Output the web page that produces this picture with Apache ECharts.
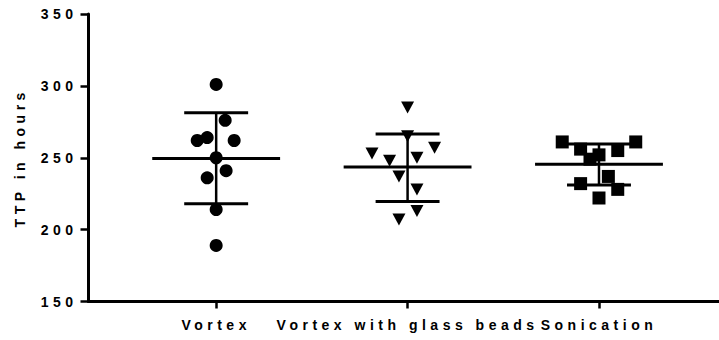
<!DOCTYPE html>
<html>
<head>
<meta charset="utf-8">
<script src="https://cdn.jsdelivr.net/npm/echarts@6/dist/echarts.min.js"></script>
<style>
html, body { margin: 0; padding: 0; background: #fff; }
#chart { width: 719px; height: 340px; }
#chart svg text { letter-spacing: 4.5px; }
</style>
</head>
<body>
<div id="chart"></div>
<script>
// ---- data ----
const categories = ['Vortex', 'Vortex with glass beads', 'Sonication'];

const vortexValues  = [301, 276, 264, 262, 262, 250, 241, 236, 214, 189];
const vortexJitter  = [0, 0.047, -0.047, -0.099, 0.094, 0, 0.052, -0.047, 0, 0];

const beadsValues   = [285, 265, 253, 248, 250, 257, 237, 228, 213, 207];
const beadsJitter   = [0, 0, -0.186, -0.094, 0.049, 0.141, -0.045, 0.049, 0.049, -0.045];

const sonicValues   = [261, 261, 256, 255, 252, 249, 237, 232, 228, 222];
const sonicJitter   = [-0.192, 0.192, -0.096, 0.098, 0, -0.047, 0.049, -0.096, 0.098, 0];

const groupMeans    = [249.5, 243.5, 245.4];
const groupUpper    = [281.3, 266.5, 259.6];
const groupLower    = [218.0, 219.5, 231.0];

const yTicks = [150, 200, 250, 300, 350];

// ---- build chart ----
const FONT = '"Liberation Sans", Arial, sans-serif';
function pts(values, jitter, pos) {
  return values.map((v, i) => [pos + jitter[i], v]);
}
const statsData = groupMeans.map((m, i) => [i + 1, m, groupUpper[i], groupLower[i]]);

const chart = echarts.init(document.getElementById('chart'), null, { renderer: 'svg' });
chart.setOption({
  animation: false,
  backgroundColor: '#fff',
  grid: { left: 88.5, right: 0, top: 14, bottom: 38.5, containLabel: false },
  xAxis: {
    type: 'value',
    min: 0.333,
    max: 3.627,
    splitLine: { show: false },
    axisLine: { show: true, onZero: false, lineStyle: { color: '#000', width: 3 } },
    axisTick: { show: true, customValues: [1, 2, 3], length: 7, lineStyle: { color: '#000', width: 2.5 } },
    axisLabel: {
      show: true, customValues: [1, 2, 3],
      formatter: v => categories[Math.round(v) - 1] || '',
      color: '#000', fontFamily: FONT, fontWeight: 'bold', fontSize: 14, margin: 16
    }
  },
  yAxis: {
    type: 'value',
    min: yTicks[0], max: yTicks[yTicks.length - 1], interval: 50,
    name: 'TTP in hours',
    nameLocation: 'middle',
    nameGap: 62,
    nameTextStyle: { color: '#000', fontFamily: FONT, fontWeight: 'bold', fontSize: 14 },
    splitLine: { show: false },
    axisLine: { show: true, lineStyle: { color: '#000', width: 3 } },
    axisTick: { show: true, length: 8, lineStyle: { color: '#000', width: 2.5 } },
    axisLabel: { color: '#000', fontFamily: FONT, fontWeight: 'bold', fontSize: 14, margin: 11 }
  },
  series: [
    {
      type: 'custom',
      z: 1,
      data: statsData,
      renderItem: function (params, api) {
        const x = api.value(0);
        const up = api.coord([x, api.value(2)]);
        const lo = api.coord([x, api.value(3)]);
        const mL = api.coord([x - 0.334, api.value(1)]);
        const mR = api.coord([x + 0.334, api.value(1)]);
        const cL = api.coord([x - 0.167, api.value(2)]);
        const cR = api.coord([x + 0.167, api.value(2)]);
        const lL = api.coord([x - 0.167, api.value(3)]);
        const lR = api.coord([x + 0.167, api.value(3)]);
        const st = { stroke: '#000', lineWidth: 3, fill: null };
        return {
          type: 'group',
          children: [
            { type: 'line', shape: { x1: mL[0], y1: mL[1], x2: mR[0], y2: mR[1] }, style: st },
            { type: 'line', shape: { x1: up[0], y1: up[1], x2: lo[0], y2: lo[1] }, style: { stroke: '#000', lineWidth: 2.5 } },
            { type: 'line', shape: { x1: cL[0], y1: cL[1], x2: cR[0], y2: cR[1] }, style: st },
            { type: 'line', shape: { x1: lL[0], y1: lL[1], x2: lR[0], y2: lR[1] }, style: st }
          ]
        };
      }
    },
    {
      type: 'scatter', z: 2,
      symbol: 'circle', symbolSize: 13,
      itemStyle: { color: '#000', opacity: 1 },
      data: pts(vortexValues, vortexJitter, 1)
    },
    {
      type: 'scatter', z: 2,
      symbol: 'triangle', symbolRotate: 180, symbolSize: [13, 12],
      itemStyle: { color: '#000', opacity: 1 },
      data: pts(beadsValues, beadsJitter, 2)
    },
    {
      type: 'scatter', z: 2,
      symbol: 'rect', symbolSize: 13,
      itemStyle: { color: '#000', opacity: 1 },
      data: pts(sonicValues, sonicJitter, 3)
    }
  ]
});
</script>
</body>
</html>
